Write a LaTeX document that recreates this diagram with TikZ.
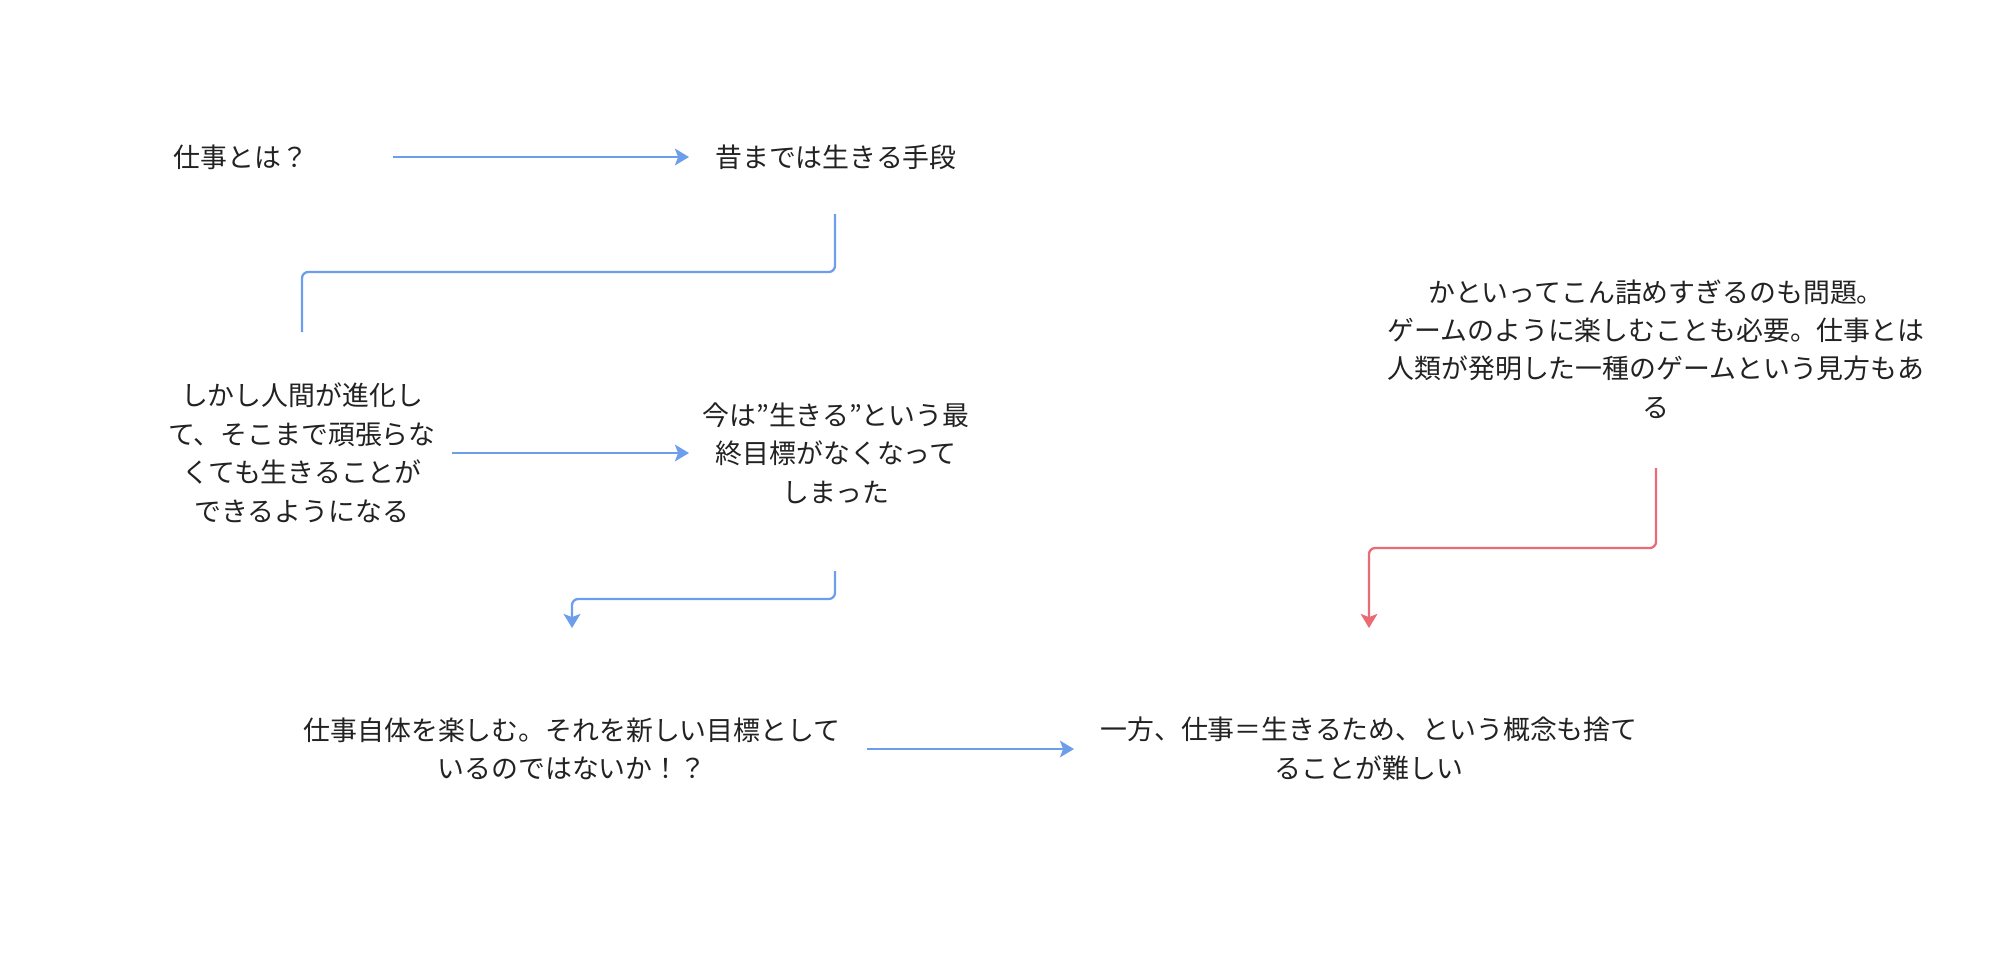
\documentclass[tikz,border=0pt]{standalone}
\usepackage{fontspec}
\newfontfamily\jpfont{Noto Sans CJK JP}
\usetikzlibrary{arrows.meta,calc}
\definecolor{linkblue}{HTML}{6D9EEB}
\definecolor{linkred}{HTML}{EA6B73}
\definecolor{txtgray}{HTML}{222222}
\tikzset{txt/.style={align=center,inner sep=0pt,text=txtgray,font=\jpfont\fontsize{15.3}{21.9}\selectfont},
        link/.style={line width=1.3pt,rounded corners=3.5pt},
        arr/.style={-{Stealth[length=8pt,width=9.5pt,inset=1.8pt]}}}

\begin{document}
\begin{tikzpicture}[x=0.02cm,y=-0.02cm]
        \useasboundingbox (0,0) rectangle (2000,964);
        \node [txt] (n1) at (241,157) {仕事とは？};
        \node [txt] (n2) at (836,157) {昔までは生きる手段};
        \node [txt] (n3) at (302,453) {しかし人間が進化し\\て、そこまで頑張らな\\くても生きることが\\できるようになる};
        \node [txt] (n4) at (836,453) {今は”生きる”という最\\終目標がなくなって\\しまった};
        \node [txt] (n5) at (572,749) {仕事自体を楽しむ。それを新しい目標として\\いるのではないか！？};
        \node [txt] (n6) at (1369,749) {一方、仕事＝生きるため、という概念も捨て\\ることが難しい};
        \node [txt] (n7) at (1656,349) {かといってこん詰めすぎるのも問題。\\ゲームのように楽しむことも必要。仕事とは\\人類が発明した一種のゲームという見方もあ\\る};
        \draw [link,linkblue,arr] ($(n1)+(152,0)$)--($(n2)+(-147,0)$);
        \draw [link,linkblue] ($(n2)+(-1,57)$) |- ($(n3)+(0,-181)$) -- ($(n3)+(0,-121)$);
        \draw [link,linkblue,arr] ($(n3)+(150,0)$)--($(n4)+(-147,0)$);
        \draw [link,linkblue,arr] ($(n4)+(-1,118)$) |- ($(n5)+(0,-150)$) -- ($(n5)+(0,-121)$);
        \draw [link,linkblue,arr] ($(n5)+(295,0)$)--($(n6)+(-295,0)$);
        \draw [link,linkred,arr] ($(n7)+(0,119)$) |- ($(n6)+(0,-201)$) -- ($(n6)+(0,-121)$);
\end{tikzpicture}
\end{document}
